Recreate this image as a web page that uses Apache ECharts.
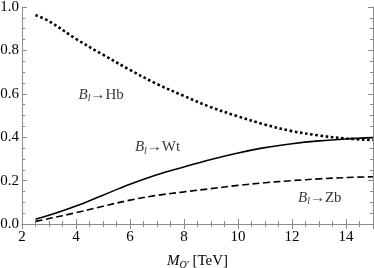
<!DOCTYPE html>
<html><head><meta charset="utf-8">
<script src="https://cdn.jsdelivr.net/npm/echarts@6/dist/echarts.min.js"></script>
<style>html,body{margin:0;padding:0;background:#fff}#c{width:374px;height:268px}</style>
</head><body><div id="c"></div>
<script>
const masses = [2.5, 3, 4, 5, 6, 7, 8, 9, 10, 11, 12, 13, 14, 15];
const brHb = [0.963, 0.935, 0.853, 0.78, 0.71, 0.645, 0.59, 0.538, 0.496, 0.458, 0.428, 0.408, 0.394, 0.387];
const brWt = [0.022, 0.04, 0.083, 0.133, 0.183, 0.227, 0.263, 0.297, 0.327, 0.352, 0.37, 0.383, 0.392, 0.398];
const brZb = [0.012, 0.025, 0.052, 0.082, 0.11, 0.132, 0.148, 0.163, 0.178, 0.19, 0.2, 0.208, 0.214, 0.218];
const labelNames = ['Hb', 'Wt', 'Zb'];
const labelX = [4.93, 7.02, 13.03];
const labelY = [0.594, 0.353, 0.12];

const serif = '"Times New Roman","Liberation Serif",serif';
const frame = '#8c8c8c';
const pairs = (ys) => masses.map((m, i) => [m, ys[i]]);

const axisCommon = {
  axisLine: {show: true, lineStyle: {color: frame, width: 1}},
  axisTick: {show: true, inside: true, length: 5, lineStyle: {color: frame}},
  minorTick: {show: true, splitNumber: 4, length: 3, lineStyle: {color: frame}},
  splitLine: {show: false}
};

const chart = echarts.init(document.getElementById('c'));
chart.setOption({
  animation: false,
  backgroundColor: '#fff',
  grid: {left: 22, right: 1, top: 7, bottom: 44, containLabel: false, outerBoundsMode: 'none'},
  xAxis: [
    Object.assign({type: 'value', min: 2, max: 15, interval: 2, position: 'bottom',
      axisLabel: {color: '#000', fontFamily: serif, fontSize: 15, margin: 6,
        formatter: v => (v % 2 === 0 ? String(v) : '')},
      name: '{i|M}{s|Q\'}{t| [TeV]}', nameLocation: 'middle', nameGap: 29,
      nameTextStyle: {color: '#000', fontFamily: serif, fontSize: 14,
        rich: {i: {fontStyle: 'italic', fontFamily: serif, fontSize: 15, color: '#000'},
               s: {fontStyle: 'italic', fontFamily: serif, fontSize: 10, color: '#000', padding: [7, 0, 0, 0]},
               t: {fontFamily: serif, fontSize: 15, color: '#000'}}}
    }, axisCommon),
    Object.assign({type: 'value', min: 2, max: 15, interval: 2, position: 'top',
      axisLabel: {show: false}}, axisCommon)
  ],
  yAxis: [
    Object.assign({type: 'value', min: 0, max: 1, interval: 0.2, position: 'left',
      axisLabel: {color: '#000', fontFamily: serif, fontSize: 15, margin: 3,
        formatter: v => v.toFixed(1)}}, axisCommon),
    Object.assign({type: 'value', min: 0, max: 1, interval: 0.2, position: 'right',
      axisLabel: {show: false}}, axisCommon)
  ],
  series: [
    {type: 'line', data: pairs(brHb), smooth: 0.35, symbol: 'none',
      lineStyle: {color: '#000', width: 2.6, type: [2.6, 2.6], cap: 'butt'}},
    {type: 'line', data: pairs(brWt), smooth: 0.35, symbol: 'none',
      lineStyle: {color: '#000', width: 1.6, type: 'solid'}},
    {type: 'line', data: pairs(brZb), smooth: 0.35, symbol: 'none',
      lineStyle: {color: '#000', width: 1.6, type: [7, 3.5]}},
    {type: 'scatter', symbolSize: 0, silent: true,
      data: labelNames.map((n, i) => ({value: [labelX[i], labelY[i]], name: n})),
      label: {show: true, position: 'inside',
        formatter: p => '{i|B}{s|l}{t|→' + p.name + '}',
        rich: {
          i: {fontStyle: 'italic', fontFamily: serif, fontSize: 15, color: '#000'},
          s: {fontStyle: 'italic', fontFamily: serif, fontSize: 10, color: '#000', padding: [7, 0, 0, 0]},
          t: {fontFamily: serif, fontSize: 15, color: '#000'}
        }}}
  ]
});
</script></body></html>
